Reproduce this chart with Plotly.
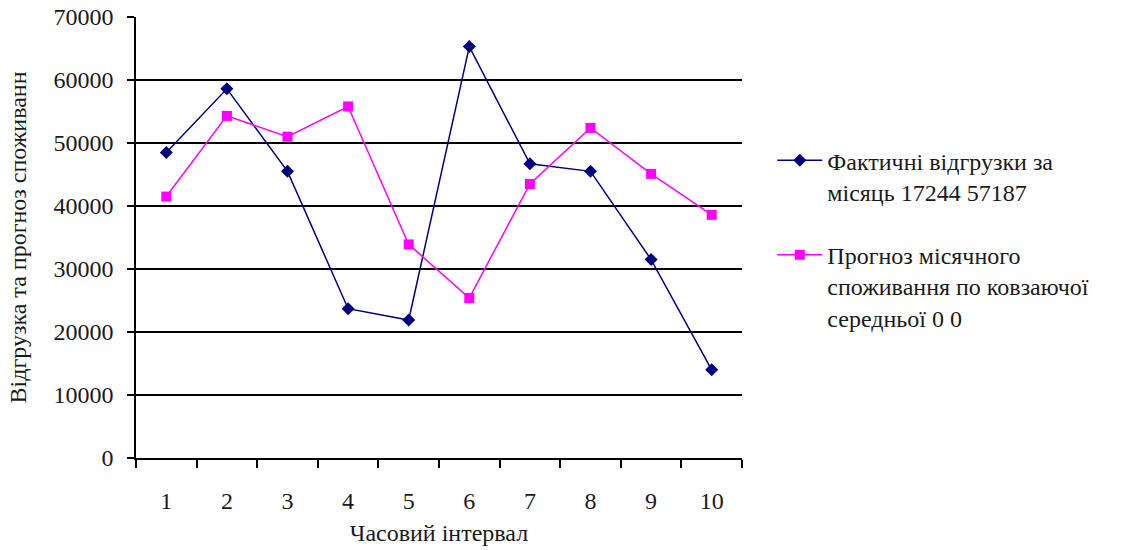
import plotly.graph_objects as go

categories = [1, 2, 3, 4, 5, 6, 7, 8, 9, 10]
actual = [48500, 58600, 45500, 23700, 21900, 65300, 46700, 45500, 31500, 14000]
forecast = [41500, 54300, 51000, 55800, 33900, 25400, 43500, 52400, 45100, 38600]
name_actual = "Фактичні відгрузки за<br>місяць 17244 57187"
name_forecast = "Прогноз місячного<br>споживання по ковзаючої<br>середньої 0 0"
y_ticks = [0, 10000, 20000, 30000, 40000, 50000, 60000, 70000]
y_ticktext = ["0", "10000", "20000", "30000", "40000", "50000", "60000", "70000"]

FONT = "Liberation Serif, Times New Roman, serif"
fs = 24
TC = "#1a1a1a"

fig = go.Figure()
fig.add_trace(go.Scatter(
    x=categories, y=actual, name=name_actual, mode="lines+markers",
    line=dict(color="#000080", width=1.5),
    marker=dict(symbol="diamond", size=10, color="#000080"),
    legendgroup="a"))
fig.add_trace(go.Scatter(
    x=categories, y=forecast, name=name_forecast, mode="lines+markers",
    line=dict(color="#FF00FF", width=1.5),
    marker=dict(symbol="square", size=10, color="#FF00FF"),
    legendgroup="b"))

fig.update_layout(
    width=1130, height=550,
    margin=dict(l=136, r=388, t=17, b=92, autoexpand=False),
    paper_bgcolor="white", plot_bgcolor="white",
    font=dict(family=FONT, size=fs, color=TC),
    showlegend=True,
    legend=dict(x=1.05, xanchor="left", y=0.725, yanchor="top",
                valign="top", tracegroupgap=29, itemwidth=45,
                font=dict(family=FONT, size=fs, color=TC),
                bgcolor="rgba(0,0,0,0)"),
    xaxis=dict(range=[0.5, 10.5], tickmode="array", tickvals=categories,
               ticktext=[str(c) for c in categories],
               ticks="", ticklabelstandoff=20, automargin=False,
               showgrid=False, zeroline=False,
               showline=True, linecolor="black", linewidth=1.5,
               minor=dict(tick0=0.5, dtick=1, ticks="outside", ticklen=8,
                          tickcolor="black", tickwidth=1.5, showgrid=False),
               title=dict(text="Часовий інтервал", standoff=12,
                          font=dict(family=FONT, size=fs, color=TC))),
    yaxis=dict(range=[0, 70000], tickmode="array", tickvals=y_ticks,
               ticktext=y_ticktext, automargin=False,
               ticks="outside", ticklen=7, tickcolor="black", tickwidth=1.5,
               ticklabelstandoff=9,
               showgrid=True, gridcolor="black", gridwidth=1.5,
               zeroline=False, showline=True, linecolor="black", linewidth=1.5,
               title=dict(text="Відгрузка та прогноз споживанн", standoff=20,
                          font=dict(family=FONT, size=fs, color=TC))),
)

fig.write_html("out.html")
